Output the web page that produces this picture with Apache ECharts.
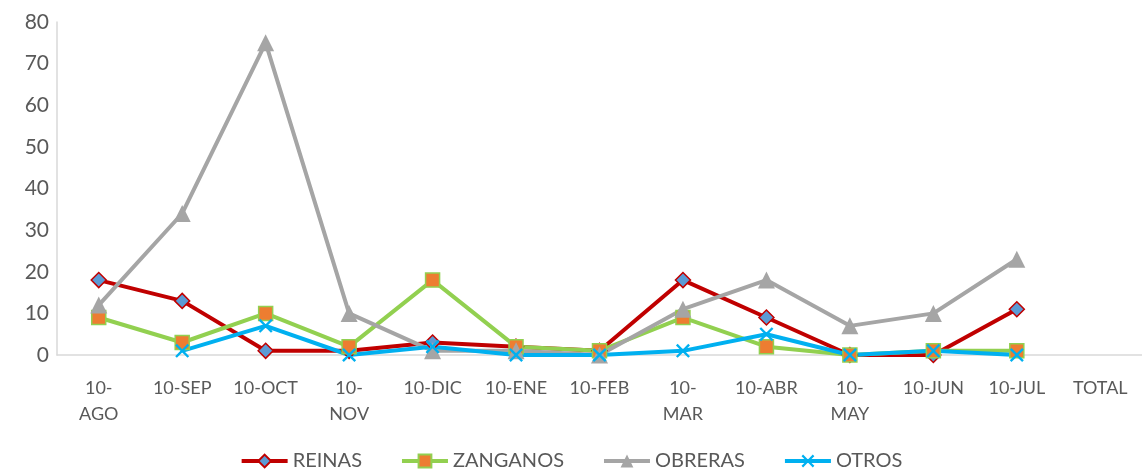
<!DOCTYPE html>
<html>
<head>
<meta charset="utf-8">
<script src="https://cdn.jsdelivr.net/npm/echarts@6/dist/echarts.min.js"></script>
<style>
html,body{margin:0;padding:0;background:#fff;}
#chart{width:1142px;height:471px;}
</style>
</head>
<body>
<div id="chart"></div>
<script>
var meses = ['10-AGO','10-SEP','10-OCT','10-NOV','10-DIC','10-ENE','10-FEB','10-MAR','10-ABR','10-MAY','10-JUN','10-JUL','TOTAL'];
// etiquetas que van en dos lineas
var partidas = ['10-AGO','10-NOV','10-MAR','10-MAY'];
var reinas = [18,13,1,1,3,2,1,18,9,0,0,11,null];
var zanganos = [9,3,10,2,18,2,1,9,2,0,1,1,null];
var obreras = [12,34,75,10,1,1,0,11,18,7,10,23,null];
var otros = [null,1,7,0,2,0,0,1,5,0,1,0,null];
var yTicks = [0,10,20,30,40,50,60,70,80];

var fuente = 'Lato, "Open Sans", sans-serif';
var gris = '#595959';
var cruz = 'path://M0,1.2L1.2,0L5,3.8L8.8,0L10,1.2L6.2,5L10,8.8L8.8,10L5,6.2L1.2,10L0,8.8L3.8,5Z';

var chart = echarts.init(document.getElementById('chart'));
chart.setOption({
	animation:false,
	grid:{left:57,right:0,top:22,bottom:116},
	legend:{
		top:446,
		left:'center',
		itemWidth:46,
		itemHeight:16,
		itemGap:38,
		lineStyle:{width:4},
		textStyle:{color:gris,fontSize:20,fontFamily:fuente},
		data:['REINAS','ZANGANOS','OBRERAS','OTROS']
	},
	xAxis:{
		type:'category',
		data:meses,
		boundaryGap:true,
		axisLine:{lineStyle:{color:'#d9d9d9',width:1.5}},
		axisTick:{show:false},
		axisLabel:{
			color:gris,
			fontSize:18,
			fontFamily:fuente,
			margin:20,
			lineHeight:26,
			interval:0,
			formatter:function(v){
				return partidas.indexOf(v)>=0 ? v.replace('-','-\n') : v;
			}
		}
	},
	yAxis:{
		type:'value',
		min:yTicks[0],
		max:yTicks[yTicks.length-1],
		interval:10,
		axisLine:{show:true,lineStyle:{color:'#d9d9d9',width:1.5}},
		axisTick:{show:false},
		splitLine:{show:false},
		axisLabel:{color:gris,fontSize:21,fontFamily:fuente,margin:8}
	},
	series:[{
		name:'REINAS',
		type:'line',
		data:reinas,
		symbol:'diamond',
		symbolSize:15,
		lineStyle:{color:'#c00000',width:4},
		itemStyle:{color:'#5b9bd5',borderColor:'#c00000',borderWidth:1.5}
	},{
		name:'ZANGANOS',
		type:'line',
		data:zanganos,
		symbol:'rect',
		symbolSize:14,
		lineStyle:{color:'#92d050',width:4},
		itemStyle:{color:'#ed7d31',borderColor:'#92d050',borderWidth:1.5}
	},{
		name:'OBRERAS',
		type:'line',
		data:obreras,
		symbol:'triangle',
		symbolSize:17,
		lineStyle:{color:'#a5a5a5',width:4},
		itemStyle:{color:'#a5a5a5',borderColor:'#a5a5a5',borderWidth:0}
	},{
		name:'OTROS',
		type:'line',
		data:otros,
		symbol:cruz,
		symbolSize:14,
		lineStyle:{color:'#00b0f0',width:4},
		itemStyle:{color:'#00b0f0',borderWidth:0}
	}]
});
</script>
</body>
</html>
